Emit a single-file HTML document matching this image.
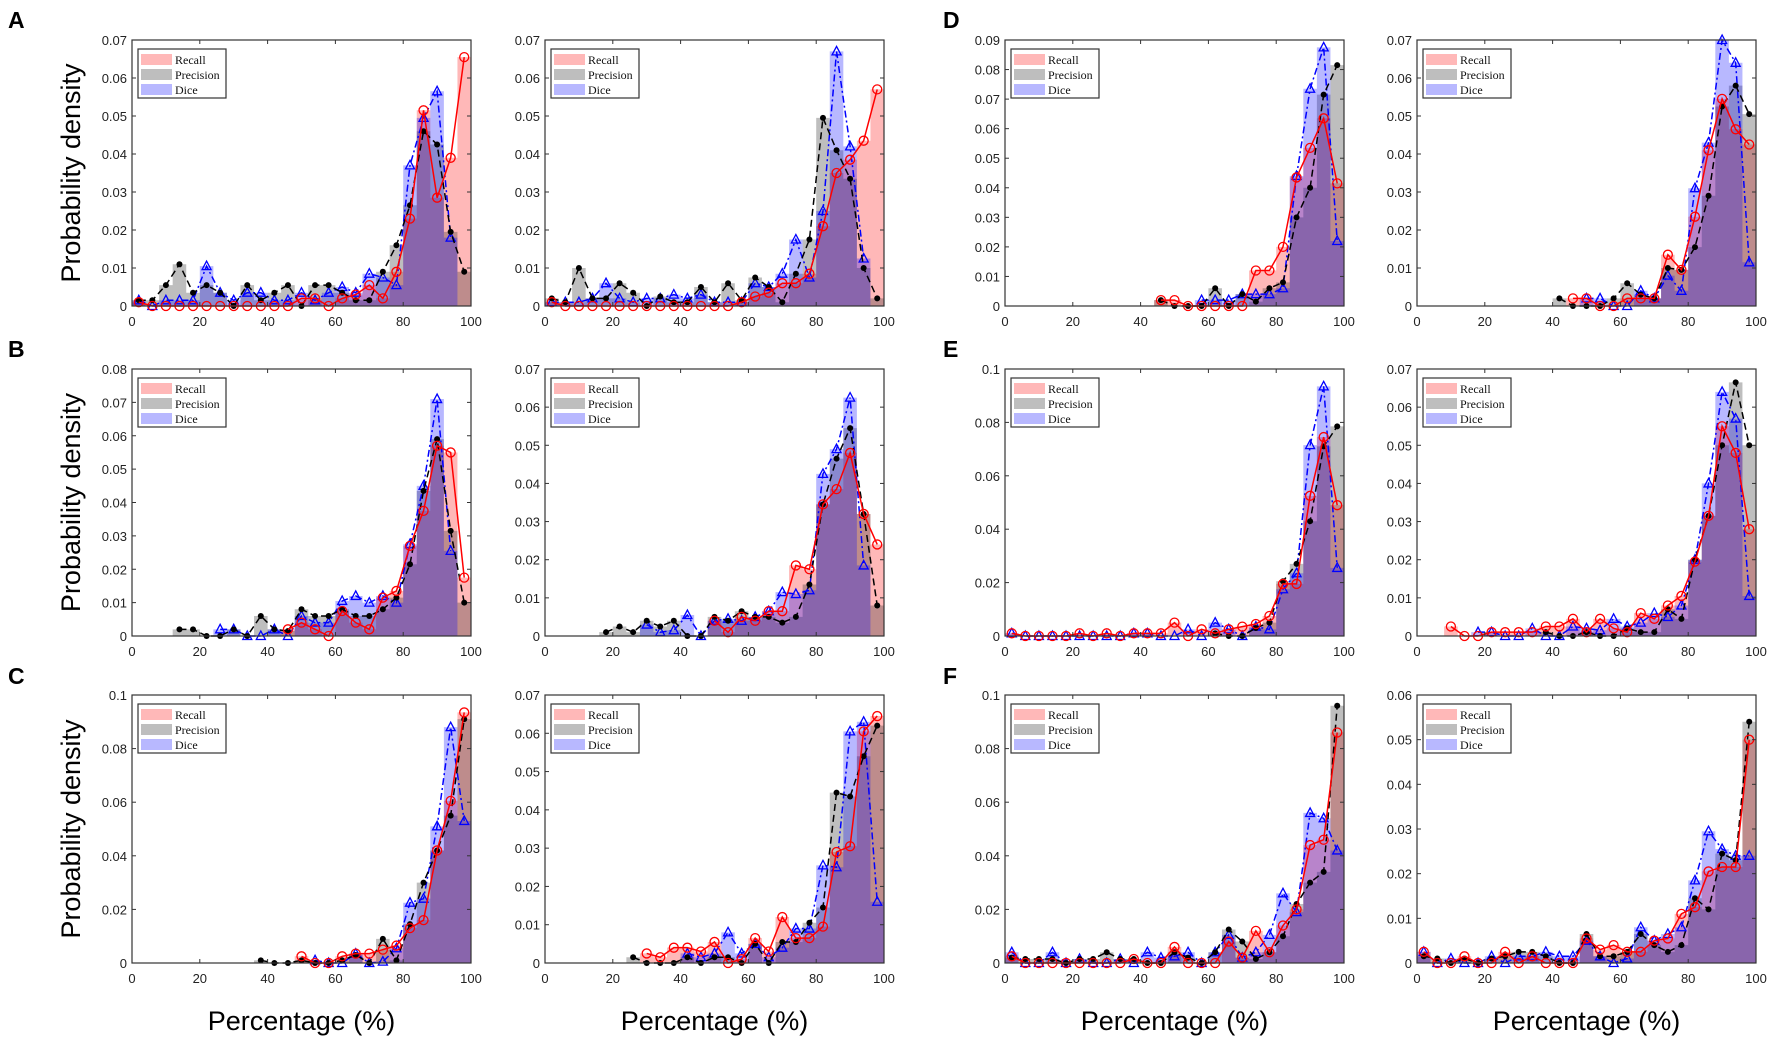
<!DOCTYPE html>
<html><head><meta charset="utf-8"><title>Recall Precision Dice densities</title>
<style>
html,body{margin:0;padding:0;background:#fff;}
svg{display:block;font-family:"Liberation Sans",sans-serif;}
.tick{font-size:13px;fill:#222;}
.leg{font-family:"Liberation Serif",serif;font-size:12px;fill:#111;}
</style></head>
<body>
<svg id="fig" width="1772" height="1040" viewBox="0 0 1772 1040" xmlns="http://www.w3.org/2000/svg"></svg>
<script>
const binCenters = [2,6,10,14,18,22,26,30,34,38,42,46,50,54,58,62,66,70,74,78,82,86,90,94,98];
const xTickLabels = [0,20,40,60,80,100];
const _ = null;
// Panel A1
const a1Recall = [0.001,0,0,0,0,0,0,0,0,0,0,0,0.002,0.002,0,0.002,0.003,0.0055,0.002,0.009,0.023,0.0515,0.0285,0.039,0.0655];
const a1Precision = [0.0015,0.0015,0.0055,0.011,0.0035,0.0055,0.0035,0,0.0055,0.0015,0.0035,0.0055,0,0.0055,0.0055,0.0035,0.0015,0.0015,0.009,0.016,0.0265,0.046,0.0425,0.0195,0.009];
const a1Dice = [0.0015,0,0.0015,0.0015,0.0015,0.0105,0.0035,0.0015,0.0035,0.0035,0.0015,0.0015,0.0035,0.0015,0.0035,0.005,0.0035,0.0085,0.0075,0.0055,0.037,0.0495,0.0565,0.018,_];
// Panel A2
const a2Recall = [0.001,0,0,0,0,0,0,0,0,0,0,0,0,0,0.001,0.0025,0.0035,0.006,0.006,0.0085,0.021,0.035,0.0385,0.0435,0.057];
const a2Precision = [0.002,0.001,0.01,0.002,0.002,0.006,0.0035,0,0.0025,0.001,0.001,0.005,0.001,0.006,0.0015,0.0075,0.005,0.001,0.0085,0.0175,0.0495,0.041,0.0335,0.01,0.002];
const a2Dice = [0.001,0.001,0.001,0.002,0.006,0.002,0.001,0.002,0.002,0.003,0.002,0.003,0.001,0.001,0.001,0.006,0.005,0.0085,0.0175,0.0075,0.025,0.067,0.042,0.0125,_];
// Panel B1
const b1Recall = [_,_,_,_,_,_,_,_,_,_,_,0.002,0.004,0.002,0,0.0075,0.004,0.002,0.0115,0.0135,0.027,0.0375,0.057,0.055,0.0175];
const b1Precision = [_,_,_,0.002,0.002,0,0,0.002,0,0.006,0.002,0.0015,0.008,0.006,0.006,0.008,0.006,0.006,0.008,0.0115,0.0215,0.0435,0.059,0.0315,0.01];
const b1Dice = [_,_,_,_,_,_,0.002,0.002,0,0,0.002,0,0.006,0.004,0.004,0.0105,0.012,0.01,0.012,0.01,0.0275,0.045,0.071,0.0255,_];
// Panel B2
const b2Recall = [_,_,_,_,_,_,_,_,_,_,_,_,0.004,0.001,0.005,0.004,0.0065,0.0065,0.0185,0.0175,0.0345,0.0385,0.048,0.032,0.024];
const b2Precision = [_,_,_,_,0.001,0.0025,0.001,0.004,0.0025,0.004,0,0,0.005,0.004,0.0065,0.005,0.005,0.0035,0.005,0.0135,0.0345,0.0465,0.0545,0.032,0.008];
const b2Dice = [_,_,_,_,_,_,_,0.003,0.001,0.0015,0.0055,0,0.004,0.0045,0.004,0.005,0.0065,0.0115,0.011,0.012,0.0425,0.049,0.0625,0.0185,_];
// Panel C1
const c1Recall = [_,_,_,_,_,_,_,_,_,_,_,_,0.0025,0,0,0.0025,0.0035,0.0035,0.005,0.0065,0.013,0.016,0.042,0.0605,0.0935];
const c1Precision = [_,_,_,_,_,_,_,_,_,0.001,0,0,0.001,0,0,0.001,0.003,0,0.009,0.001,0.0145,0.03,0.042,0.055,0.091];
const c1Dice = [_,_,_,_,_,_,_,_,_,_,_,_,_,0.001,0,0,0.0035,0,0.0005,0.0055,0.0225,0.024,0.051,0.088,0.053];
// Panel C2
const c2Recall = [_,_,_,_,_,_,_,0.0025,0.0015,0.004,0.004,0.003,0.0055,0,0.001,0.0065,0.003,0.012,0.0065,0.0065,0.0095,0.029,0.0305,0.0605,0.0645];
const c2Precision = [_,_,_,_,_,_,0.0015,0,0,0,0.0015,0,0.0015,0.0015,0,0.005,0,0.0055,0.0055,0.0105,0.0145,0.0445,0.0435,0.054,0.062];
const c2Dice = [_,_,_,_,_,_,_,_,_,_,0.0025,0.0015,0.0025,0.008,0.0025,0.005,0.0015,0.004,0.009,0.009,0.0255,0.025,0.0605,0.063,0.016];
// Panel D1
const d1Recall = [_,_,_,_,_,_,_,_,_,_,_,0.002,0.002,0,0,0,0,0,0.012,0.012,0.02,0.0435,0.0535,0.0635,0.0415];
const d1Precision = [_,_,_,_,_,_,_,_,_,_,_,0.002,0,0,0,0.006,0,0.004,0.0015,0.006,0.008,0.03,0.04,0.0715,0.0815];
const d1Dice = [_,_,_,_,_,_,_,_,_,_,_,_,_,_,0.002,0.002,0.002,0.004,0.004,0.004,0.006,0.044,0.0735,0.0875,0.022];
// Panel D2
const d2Recall = [_,_,_,_,_,_,_,_,_,_,_,0.002,0.002,0,0,0.002,0.002,0.002,0.0135,0.0095,0.0235,0.041,0.0545,0.0465,0.0425];
const d2Precision = [_,_,_,_,_,_,_,_,_,_,0.002,0,0,0,0.002,0.006,0.003,0.002,0.01,0.0095,0.0155,0.029,0.0525,0.058,0.0505];
const d2Dice = [_,_,_,_,_,_,_,_,_,_,_,_,0.002,0.002,0,0,0.004,0.002,0.008,0.004,0.031,0.043,0.07,0.064,0.0115];
// Panel E1
const e1Recall = [0.001,0,0,0,0,0.001,0,0.001,0,0.001,0.001,0.001,0.005,0,0.0025,0.001,0.0025,0.0035,0.0045,0.0075,0.0195,0.0195,0.0525,0.0745,0.049];
const e1Precision = [_,_,_,_,_,_,_,_,_,_,_,_,_,_,_,0.001,0,0,0.003,0.005,0.0205,0.027,0.043,0.071,0.0785];
const e1Dice = [0.001,0,0,0,0,0,0,0,0,0.001,0.001,0,0,0.0025,0,0.005,0.0025,0,0.0035,0.0025,0.0175,0.0235,0.0715,0.0935,0.0255];
// Panel E2
const e2Recall = [_,_,0.0025,0,0,0.001,0.001,0.001,0.001,0.0025,0.0025,0.0045,0.001,0.0045,0.002,0.001,0.006,0.0045,0.008,0.0105,0.0195,0.0315,0.055,0.048,0.028];
const e2Precision = [_,_,_,_,_,_,_,_,_,0.001,0,0,0.001,0,0,0.002,0.001,0.001,0.007,0.0045,0.02,0.0315,0.05,0.0665,0.05];
const e2Dice = [_,_,_,_,0.001,0.001,0,0,0.002,0,0,0.0025,0.002,0.0015,0.0045,0.0025,0.0035,0.006,0.005,0.008,0.02,0.04,0.064,0.057,0.0105];
// Panel F1
const f1Recall = [0.0025,0,0,0,0,0,0,0,0,0.0015,0,0,0.006,0,0,0,0.008,0.002,0.012,0.004,0.014,0.02,0.044,0.046,0.086];
const f1Precision = [0.002,0.0015,0.0015,0.0015,0,0.0015,0.0015,0.004,0.0015,0.0015,0,0,0.004,0.002,0,0.004,0.0125,0.008,0.0015,0.004,0.01,0.022,0.03,0.034,0.096];
const f1Dice = [0.004,0,0,0.004,0,0.0015,0,0,0.0015,0,0.004,0.002,0.0025,0.004,0,0.004,0.0105,0.002,0.004,0.0105,0.026,0.019,0.056,0.054,0.042];
// Panel F2
const f2Recall = [0.0025,0,0,0.0015,0,0,0.0025,0,0.0015,0,0,0,0.0055,0.003,0.004,0.0025,0.0025,0.005,0.0055,0.011,0.0125,0.0205,0.0215,0.0215,0.05];
const f2Precision = [0.0015,0.001,0,0.001,0,0.001,0.0015,0.0025,0.0025,0.0015,0,0,0.0065,0.0015,0.0015,0.0025,0.0065,0.004,0.0025,0.004,0.0145,0.012,0.0245,0.023,0.054];
const f2Dice = [0.0025,0,0.001,0,0,0.0015,0,0.0015,0.0015,0.0025,0.0015,0.0015,0.005,0.0015,0,0.001,0.008,0.005,0.0065,0.008,0.0185,0.0295,0.0255,0.024,0.024];
// y-axis tick labels per panel
const yTicksA1 = ["0","0.01","0.02","0.03","0.04","0.05","0.06","0.07"];
const yTicksA2 = ["0","0.01","0.02","0.03","0.04","0.05","0.06","0.07"];
const yTicksB1 = ["0","0.01","0.02","0.03","0.04","0.05","0.06","0.07","0.08"];
const yTicksB2 = ["0","0.01","0.02","0.03","0.04","0.05","0.06","0.07"];
const yTicksC1 = ["0","0.02","0.04","0.06","0.08","0.1"];
const yTicksC2 = ["0","0.01","0.02","0.03","0.04","0.05","0.06","0.07"];
const yTicksD1 = ["0","0.01","0.02","0.03","0.04","0.05","0.06","0.07","0.08","0.09"];
const yTicksD2 = ["0","0.01","0.02","0.03","0.04","0.05","0.06","0.07"];
const yTicksE1 = ["0","0.02","0.04","0.06","0.08","0.1"];
const yTicksE2 = ["0","0.01","0.02","0.03","0.04","0.05","0.06","0.07"];
const yTicksF1 = ["0","0.02","0.04","0.06","0.08","0.1"];
const yTicksF2 = ["0","0.01","0.02","0.03","0.04","0.05","0.06"];

const NS = "http://www.w3.org/2000/svg";
const svg = document.getElementById('fig');
function mk(tag, attrs, parent){const e=document.createElementNS(NS,tag);for(const k in attrs)e.setAttribute(k,attrs[k]);(parent||svg).appendChild(e);return e;}

const colL=[132,545], colR=[1005,1417], W=339;
const rows=[[40,306],[369,636],[695,963]];
const panels=[
 {id:'a1',x:colL[0],r:0,R:a1Recall,P:a1Precision,D:a1Dice,t:yTicksA1},
 {id:'a2',x:colL[1],r:0,R:a2Recall,P:a2Precision,D:a2Dice,t:yTicksA2},
 {id:'b1',x:colL[0],r:1,R:b1Recall,P:b1Precision,D:b1Dice,t:yTicksB1},
 {id:'b2',x:colL[1],r:1,R:b2Recall,P:b2Precision,D:b2Dice,t:yTicksB2},
 {id:'c1',x:colL[0],r:2,R:c1Recall,P:c1Precision,D:c1Dice,t:yTicksC1},
 {id:'c2',x:colL[1],r:2,R:c2Recall,P:c2Precision,D:c2Dice,t:yTicksC2},
 {id:'d1',x:colR[0],r:0,R:d1Recall,P:d1Precision,D:d1Dice,t:yTicksD1},
 {id:'d2',x:colR[1],r:0,R:d2Recall,P:d2Precision,D:d2Dice,t:yTicksD2},
 {id:'e1',x:colR[0],r:1,R:e1Recall,P:e1Precision,D:e1Dice,t:yTicksE1},
 {id:'e2',x:colR[1],r:1,R:e2Recall,P:e2Precision,D:e2Dice,t:yTicksE2},
 {id:'f1',x:colR[0],r:2,R:f1Recall,P:f1Precision,D:f1Dice,t:yTicksF1},
 {id:'f2',x:colR[1],r:2,R:f2Recall,P:f2Precision,D:f2Dice,t:yTicksF2}
];

function drawPanel(p){
  const x0=p.x, x1=p.x+W, y0=rows[p.r][0], y1=rows[p.r][1];
  const yMax=parseFloat(p.t[p.t.length-1]);
  const sx=v=>x0+(v/100)*(x1-x0);
  const sy=v=>y1-(v/yMax)*(y1-y0);
  const g=mk('g',{});
  
  
  const series=[
    {k:'recall',d:p.R,fill:'rgba(255,0,0,0.28)',stroke:'#ff0000',dash:'',mark:'circle'},
    {k:'precision',d:p.P,fill:'rgba(40,40,40,0.3)',stroke:'#000',dash:'7,4',mark:'dot'},
    {k:'dice',d:p.D,fill:'rgba(0,0,255,0.28)',stroke:'#0000ff',dash:'7,3,2,3',mark:'tri'}
  ];
  series.forEach(s=>{
    // histogram as a single step-area path per contiguous run
    let dstr='', open=false;
    s.d.forEach((v,i)=>{
      const c=binCenters[i];
      if(v===null){ if(open){dstr+=`L${sx(c-2)},${y1}Z`;open=false;} return; }
      if(!open){dstr+=`M${sx(c-2)},${y1}`;open=true;}
      dstr+=`L${sx(c-2)},${sy(v)}L${sx(c+2)},${sy(v)}`;
      if(i===s.d.length-1){dstr+=`L${sx(c+2)},${y1}Z`;open=false;}
    });
    const h=mk('path',{d:dstr,fill:s.fill},g);
    
    
  });
  series.slice().reverse().forEach(s=>{
    const lg=mk('g',{},g);
    
    
    let pts=[];
    s.d.forEach((v,i)=>{if(v!==null)pts.push([sx(binCenters[i]),sy(v)]);});
    mk('polyline',{points:pts.map(q=>q.join(',')).join(' '),fill:'none',stroke:s.stroke,'stroke-width':1.5,'stroke-dasharray':s.dash},lg);
    pts.forEach(q=>{
      let m;
      if(s.mark==='circle') m=mk('circle',{cx:q[0],cy:q[1],r:4.5,fill:'none',stroke:s.stroke,'stroke-width':1.3},lg);
      else if(s.mark==='dot') m=mk('circle',{cx:q[0],cy:q[1],r:3,fill:'#000'},lg);
      else m=mk('polygon',{points:`${q[0]},${q[1]-5} ${q[0]-4.5},${q[1]+3.5} ${q[0]+4.5},${q[1]+3.5}`,fill:'none',stroke:s.stroke,'stroke-width':1.3},lg);
      
      
    });
  });
  const box=mk('rect',{x:x0,y:y0,width:W,height:y1-y0,fill:'none',stroke:'#333','stroke-width':1.2},g);
  
  
  xTickLabels.forEach(v=>{
    const xx=sx(v);
    mk('line',{x1:xx,y1:y1,x2:xx,y2:y1-4,stroke:'#333'},g);
    mk('line',{x1:xx,y1:y0,x2:xx,y2:y0+4,stroke:'#333'},g);
    const t=mk('text',{x:xx,y:y1+20,'text-anchor':'middle',class:'tick'},g);
    t.textContent=v;
    
    
  });
  p.t.forEach(lbl=>{
    const yy=sy(parseFloat(lbl));
    mk('line',{x1:x0,y1:yy,x2:x0+4,y2:yy,stroke:'#333'},g);
    mk('line',{x1:x1,y1:yy,x2:x1-4,y2:yy,stroke:'#333'},g);
    const t=mk('text',{x:x0-5,y:yy+5,'text-anchor':'end',class:'tick'},g);
    t.textContent=lbl;
    
    
  });
  const lgd=mk('g',{},g);
  
  
  mk('rect',{x:x0+6,y:y0+9,width:88,height:49,fill:'#fff',stroke:'#333','stroke-width':1.2},lgd);
  const items=[['Recall','rgba(255,0,0,0.28)'],['Precision','rgba(40,40,40,0.3)'],['Dice','rgba(0,0,255,0.28)']];
  items.forEach((it,i)=>{
    const yy=y0+14+i*15;
    const sw=mk('rect',{x:x0+9,y:yy,width:31,height:11,fill:it[1]},lgd);
    
    
    const t=mk('text',{x:x0+43,y:yy+10,class:'leg'},lgd);
    t.textContent=it[0];
    
    
  });
}
panels.forEach(drawPanel);

[['A',8,28],['B',8,357],['C',8,684],['D',943,28],['E',943,357],['F',943,684]].forEach(l=>{
  const t=mk('text',{x:l[1],y:l[2],'font-size':23,'font-weight':'bold'});
  t.textContent=l[0];
  
  
});
rows.forEach((r,i)=>{
  const cy=(r[0]+r[1])/2;
  const t=mk('text',{x:0,y:0,'font-size':27,'text-anchor':'middle',transform:`translate(80,${cy}) rotate(-90)`});
  t.textContent='Probability density';
  
  
});
[colL[0],colL[1],colR[0],colR[1]].forEach((x,i)=>{
  const t=mk('text',{x:x+W/2,y:1030,'font-size':27,'text-anchor':'middle'});
  t.textContent='Percentage (%)';
  
  
});
</script>
</body></html>
